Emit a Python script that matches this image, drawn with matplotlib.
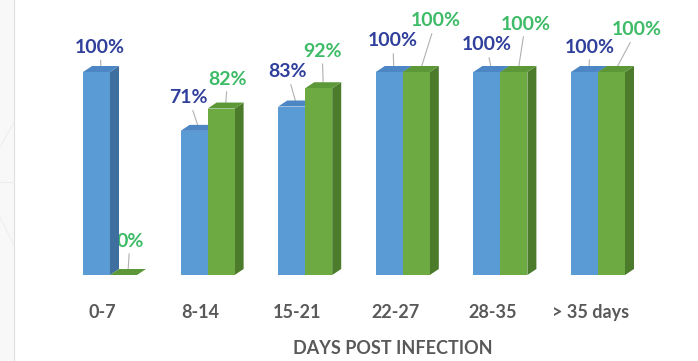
import matplotlib
matplotlib.use("Agg")
import matplotlib.pyplot as plt
from matplotlib.patches import Polygon
from matplotlib.lines import Line2D

# Data
categories = ["0-7", "8-14", "15-21", "22-27", "28-35", "> 35 days"]
series_a = [100, 71, 83, 100, 100, 100]   # blue series (%)
series_b = [0, 82, 92, 100, 100, 100]     # green series (%)
xlabel_text = "DAYS POST INFECTION"

# Label offsets (points) from each bar's top face
offs_a = [(-0.7, 15.5), (-7.2, 21.6), (-6.5, 22.7), (-0.7, 20.2), (-3.6, 17.3), (0.7, 15.8)]
offs_b = [(1.4, 22.3), (1.4, 19.1), (-0.7, 24.5), (10.8, 34.6), (5.0, 32.4), (15.1, 28.1)]

W, H, DPI = 6.98, 3.61, 100
fig = plt.figure(figsize=(W, H), dpi=DPI)
fig.patch.set_facecolor("white")

# Faint slide decoration on the left edge
fig.patches.append(plt.Rectangle((0, 0), 14 / 698, 1, transform=fig.transFigure,
                                 facecolor="#f8f8f8", edgecolor="none", zorder=0))
fig.lines.append(Line2D([14 / 698, 14 / 698], [0, 1], transform=fig.transFigure,
                        color="#dedede", lw=0.8))
for xs, ys in [([0, 14], [147, 122]), ([0, 14], [182, 182]), ([0, 14], [217, 245])]:
    fig.lines.append(Line2D([x / 698 for x in xs], [1 - y / 361 for y in ys],
                            transform=fig.transFigure, color="#eeeeee", lw=0.8))

base_px = 275.0
ax = fig.add_axes([0, (361 - base_px) / 361, 1, base_px / 361])
px_per_cat = 97.6
px_per_pct = 2.03
ax.set_xlim(-110 / px_per_cat, (698 - 110) / px_per_cat)
ax.set_ylim(0, base_px / px_per_pct)
ax.patch.set_alpha(0)
for s in ax.spines.values():
    s.set_visible(False)
ax.set_yticks([])

bw = 27 / px_per_cat          # bar width (data units)
dx = 9 / px_per_cat           # depth offset in x
dy = 6 / px_per_pct           # depth offset in y

col_a = dict(front="#5B9BD5", side="#3F6F9E", top="#4C86C4")
col_b = dict(front="#6DAA42", side="#4B7B2B", top="#5C9838")

x_idx = list(range(len(categories)))

def draw_3d(lefts, vals, cols, z):
    ax.bar(lefts, vals, width=bw, align="edge", color=cols["front"],
           edgecolor="none", zorder=z + 0.2)
    for x0, v in zip(lefts, vals):
        x1 = x0 + bw
        side = Polygon([(x1, 0), (x1 + dx, dy), (x1 + dx, v + dy), (x1, v)],
                       closed=True, facecolor=cols["side"], edgecolor="none", zorder=z)
        top = Polygon([(x0, v), (x1, v), (x1 + dx, v + dy), (x0 + dx, v + dy)],
                      closed=True, facecolor=cols["top"], edgecolor="none", zorder=z + 0.1)
        ax.add_patch(side)
        ax.add_patch(top)

lefts_a = [i - bw for i in x_idx]
lefts_b = [i for i in x_idx]
draw_3d(lefts_a, series_a, col_a, 2)
draw_3d(lefts_b, series_b, col_b, 3)

lab_font = dict(family=["Lato", "DejaVu Sans"], fontsize=14, fontweight="bold")
def labels(lefts, vals, offs, color):
    for x0, v, off in zip(lefts, vals, offs):
        xy = (x0 + bw / 2 + dx / 2, v + dy / 2)
        ax.annotate(f"{v}%", xy=xy, xytext=off, textcoords="offset points",
                    ha="center", va="center", color=color, zorder=1.5,
                    arrowprops=dict(arrowstyle="-", color="#b0b0b0", lw=0.8,
                                    shrinkA=1, shrinkB=0),
                    **lab_font)

labels(lefts_a, series_a, offs_a, "#2F3F9B")
labels(lefts_b, series_b, offs_b, "#3DBB66")

# Category axis
ax.set_xticks([i - 7.7 / px_per_cat for i in x_idx])
ax.set_xticklabels(categories, family=["Lato", "DejaVu Sans"], fontsize=13,
                   fontweight="bold", color="#595959")
ax.tick_params(axis="x", length=0, pad=21)
ax.set_xlabel(xlabel_text, family=["Lato", "DejaVu Sans"], fontsize=13,
              fontweight="bold", color="#595959")
ax.xaxis.label.set_va("center")
ax.xaxis.set_label_coords(393 / 698, (base_px - 349) / base_px)

fig.savefig("out.png", dpi=DPI, facecolor="white")
